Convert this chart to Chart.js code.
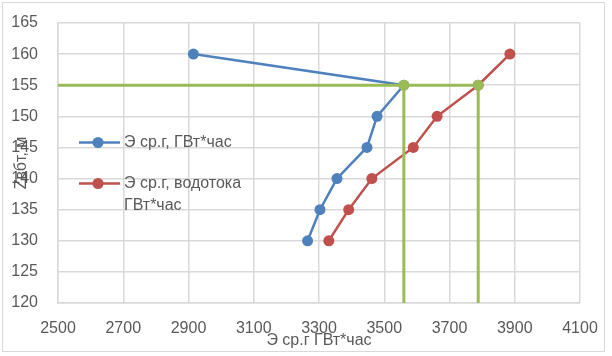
<!DOCTYPE html>
<html><head><meta charset="utf-8">
<script src="https://cdn.jsdelivr.net/npm/chart.js@4/dist/chart.umd.min.js"></script>
<style>
html,body{margin:0;padding:0;background:#fff;}
#wrap{position:relative;width:612px;height:356px;}
#frame{position:absolute;left:2px;top:2px;width:603px;height:350px;border:1.5px solid #D9D9D9;box-sizing:border-box;}
canvas{position:absolute;left:0;top:0;}
</style></head>
<body>
<div id="wrap"><div id="frame"></div><canvas id="c" width="612" height="356"></canvas></div>
<script>
const levels = [160, 155, 150, 145, 140, 135, 130];
const energyAvg = [2915, 3560, 3478, 3447, 3355, 3303, 3265];
const energyFlow = [3885, 3788, 3662, 3589, 3462, 3391, 3330];
const guideLevel = [155, 155];
const guideHorizX = [2500, 3788];
const guideVertX = [3560, 3788];
const guideBottom = 120;
const seriesNames = ["Э ср.г, ГВт*час", ["Э ср.г, водотока", "ГВт*час"]];
const xTitle = "Э ср.г ГВт*час";
const yTitle = "Zвбт, м";

const BLUE = '#4F81BD', RED = '#C0504D', GREEN = '#9BBB59';
const FONT = "'Liberation Sans', Arial, sans-serif";

const pts = (xs, ys) => xs.map((x, i) => ({x: x, y: ys[i]}));

const datasets = [
  {label:'g1', data: pts(guideHorizX, guideLevel), borderColor: GREEN, borderWidth: 3, pointRadius: 0, showLine: true},
  {label:'g2', data: [{x: guideVertX[0], y: guideLevel[0]}, {x: guideVertX[0], y: guideBottom}], borderColor: GREEN, backgroundColor: GREEN, borderWidth: 3, pointRadius: [5.5, 0], pointBorderWidth: 0, showLine: true},
  {label:'g3', data: [{x: guideVertX[1], y: guideLevel[1]}, {x: guideVertX[1], y: guideBottom}], borderColor: GREEN, backgroundColor: GREEN, borderWidth: 3, pointRadius: [5.5, 0], pointBorderWidth: 0, showLine: true},
  {label:'s1', data: pts(energyAvg, levels), borderColor: BLUE, backgroundColor: BLUE, borderWidth: 2.5, pointRadius: 5.5, pointBorderWidth: 0, showLine: true},
  {label:'s2', data: pts(energyFlow, levels), borderColor: RED, backgroundColor: RED, borderWidth: 2.5, pointRadius: 5.5, pointBorderWidth: 0, showLine: true}
];

const legendPlugin = {
  id: 'customLegend',
  afterDraw(chart) {
    const ctx = chart.ctx;
    const entries = [
      {color: BLUE, text: seriesNames[0], y: 142.5},
      {color: RED, text: seriesNames[1], y: 183.5}
    ];
    ctx.save();
    ctx.font = '16px ' + FONT;
    ctx.textBaseline = 'middle';
    entries.forEach(e => {
      ctx.strokeStyle = e.color;
      ctx.lineWidth = 2.5;
      ctx.beginPath(); ctx.moveTo(79, e.y); ctx.lineTo(120, e.y); ctx.stroke();
      ctx.fillStyle = e.color;
      ctx.beginPath(); ctx.arc(98, e.y, 5.5, 0, Math.PI * 2); ctx.fill();
      ctx.fillStyle = '#595959';
      const lines = Array.isArray(e.text) ? e.text : [e.text];
      lines.forEach((t, i) => ctx.fillText(t, 124, e.y + i * 22));
    });
    ctx.restore();
  }
};

new Chart(document.getElementById('c'), {
  type: 'scatter',
  data: {datasets},
  plugins: [legendPlugin],
  options: {
    responsive: false,
    devicePixelRatio: 1,
    animation: false,
    layout: {padding: {left: 0, top: 23, right: 32, bottom: 0}},
    plugins: {legend: {display: false}, tooltip: {enabled: false}},
    scales: {
      x: {
        type: 'linear', min: 2500, max: 4100,
        ticks: {stepSize: 200, color: '#595959', font: {family: FONT, size: 16}, padding: 16, maxRotation: 0, callback: v => String(v)},
        grid: {color: '#D9D9D9', lineWidth: 1.5, drawTicks: false},
        border: {color: '#D9D9D9', width: 1.5},
        title: {display: true, text: xTitle, color: '#595959', font: {family: FONT, size: 16}, padding: {top: 0, bottom: 6}},
        afterFit(s) { s.height = 53; s.paddingLeft = 0; s.paddingRight = 0; }
      },
      y: {
        type: 'linear', min: 120, max: 165,
        ticks: {stepSize: 5, color: '#595959', font: {family: FONT, size: 16}, padding: 20, callback: v => String(v)},
        grid: {color: '#D9D9D9', lineWidth: 1.5, drawTicks: false},
        border: {color: '#D9D9D9', width: 1.5},
        title: {display: true, text: yTitle, color: '#595959', font: {family: FONT, size: 16}, padding: {top: 12, bottom: 0}},
        afterFit(s) { s.width = 58; s.paddingTop = 0; s.paddingBottom = 0; }
      }
    }
  }
});
</script>
</body></html>
